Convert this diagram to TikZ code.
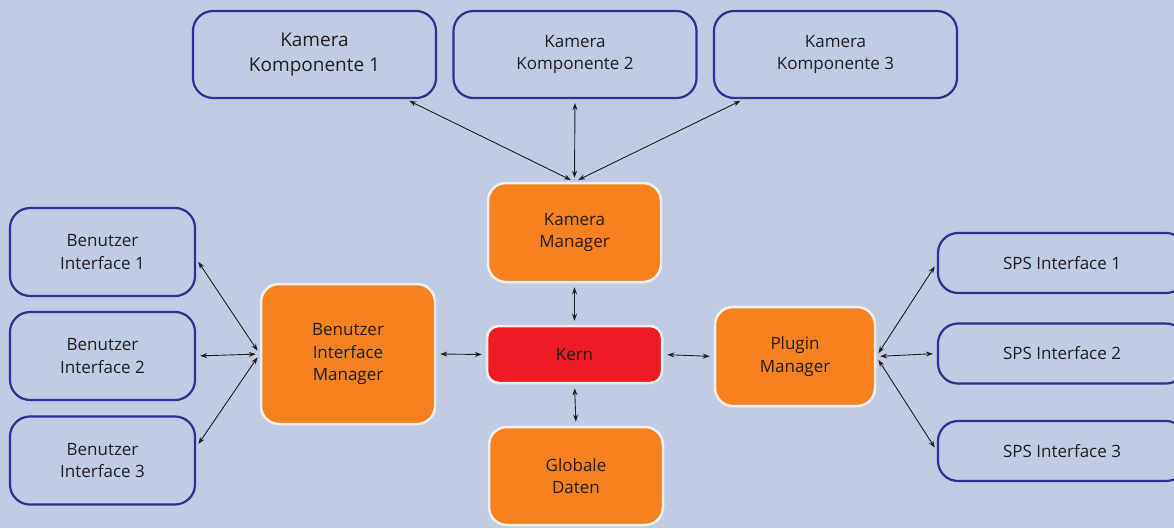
\documentclass[tikz,border=0pt]{standalone}
\usepackage{fontspec}
\setmainfont{Open Sans}
\usetikzlibrary{arrows.meta}

\definecolor{bgblue}{HTML}{C0CCE3}
\definecolor{boxblue}{HTML}{2E3192}
\definecolor{mgrorange}{HTML}{F5821F}
\definecolor{kernred}{HTML}{ED1C24}
\definecolor{textgray}{HTML}{231F20}
\definecolor{rimwhite}{HTML}{EEEEEE}

\tikzset{
  comp/.style={draw=boxblue, line width=2.2pt, rounded corners=20pt,
    align=center, inner sep=0pt, text=textgray,
    font=\fontsize{17}{22.7}\selectfont},
  mgr/.style={fill=mgrorange, draw=rimwhite, line width=2.5pt,
    rounded corners=18pt, align=center, inner sep=0pt, text=textgray,
    font=\fontsize{17}{22.7}\selectfont},
  link/.style={{Stealth[length=7pt,width=5pt]}-{Stealth[length=7pt,width=5pt]},
    line width=0.9pt, draw=textgray, shorten <=4pt, shorten >=4pt}
}

\begin{document}
\begin{tikzpicture}[x=1pt,y=-1pt]
\fill[bgblue] (0,0) rectangle (1174,528);
\useasboundingbox (0,0) rectangle (1174,528);
\clip (0,0) rectangle (1174,528);

% Kamera components along the top
\node[comp, minimum width=243pt, minimum height=87pt,
  font=\fontsize{19}{25}\selectfont] (kk1) at (314.5,54.5) {Kamera\\Komponente 1};
\node[comp, minimum width=243pt, minimum height=87pt] (kk2) at (575,54.5) {Kamera\\Komponente 2};
\node[comp, minimum width=243pt, minimum height=87pt] (kk3) at (835.5,54.5) {Kamera\\Komponente 3};

% Benutzer interfaces on the left
\node[comp, minimum width=185pt, minimum height=88pt] (bi1) at (102.5,252) {Benutzer\\Interface 1};
\node[comp, minimum width=185pt, minimum height=88pt] (bi2) at (102.5,356) {Benutzer\\Interface 2};
\node[comp, minimum width=185pt, minimum height=88pt] (bi3) at (102.5,460.5) {Benutzer\\Interface 3};

% SPS interfaces on the right
\node[comp, minimum width=248pt, minimum height=60pt] (sps1) at (1062,263) {SPS Interface 1};
\node[comp, minimum width=248pt, minimum height=60pt] (sps2) at (1062,353.5) {SPS Interface 2};
\node[comp, minimum width=248pt, minimum height=60pt] (sps3) at (1062,451) {SPS Interface 3};

% Managers and core
\node[mgr, minimum width=173pt, minimum height=99pt] (km) at (574.5,232.5) {Kamera\\Manager};
\node[mgr, minimum width=174pt, minimum height=140pt] (bim) at (348,354) {Benutzer\\Interface\\Manager};
\node[mgr, fill=kernred, rounded corners=12pt, minimum width=175pt, minimum height=57pt] (kern) at (574.5,354.5) {Kern};
\node[mgr, minimum width=174pt, minimum height=98pt] (gd) at (576,476) {Globale\\Daten};
\node[mgr, minimum width=160pt, minimum height=99pt] (pm) at (795,356.5) {Plugin\\Manager};

% Links to the Kamera components
\draw[link] (km.north) -- (kk1);
\draw[link] (km.north) -- (kk2.south);
\draw[link] (km.north) -- (kk3);

% Links around the core
\draw[link] (km.south) -- (kern.north);
\draw[link] (kern.south) -- (gd.north);
\draw[link] (kern.west) -- (bim.east);
\draw[link] (kern.east) -- (pm.west);

% Links to the interfaces
\draw[link] (bim.west) -- (bi1.-4);
\draw[link] (bim.west) -- (bi2.east);
\draw[link] (bim.west) -- (bi3.8);
\draw[link] (pm.east) -- (sps1.west);
\draw[link] (pm.east) -- (sps2.west);
\draw[link] (pm.east) -- (sps3.west);
\end{tikzpicture}
\end{document}
